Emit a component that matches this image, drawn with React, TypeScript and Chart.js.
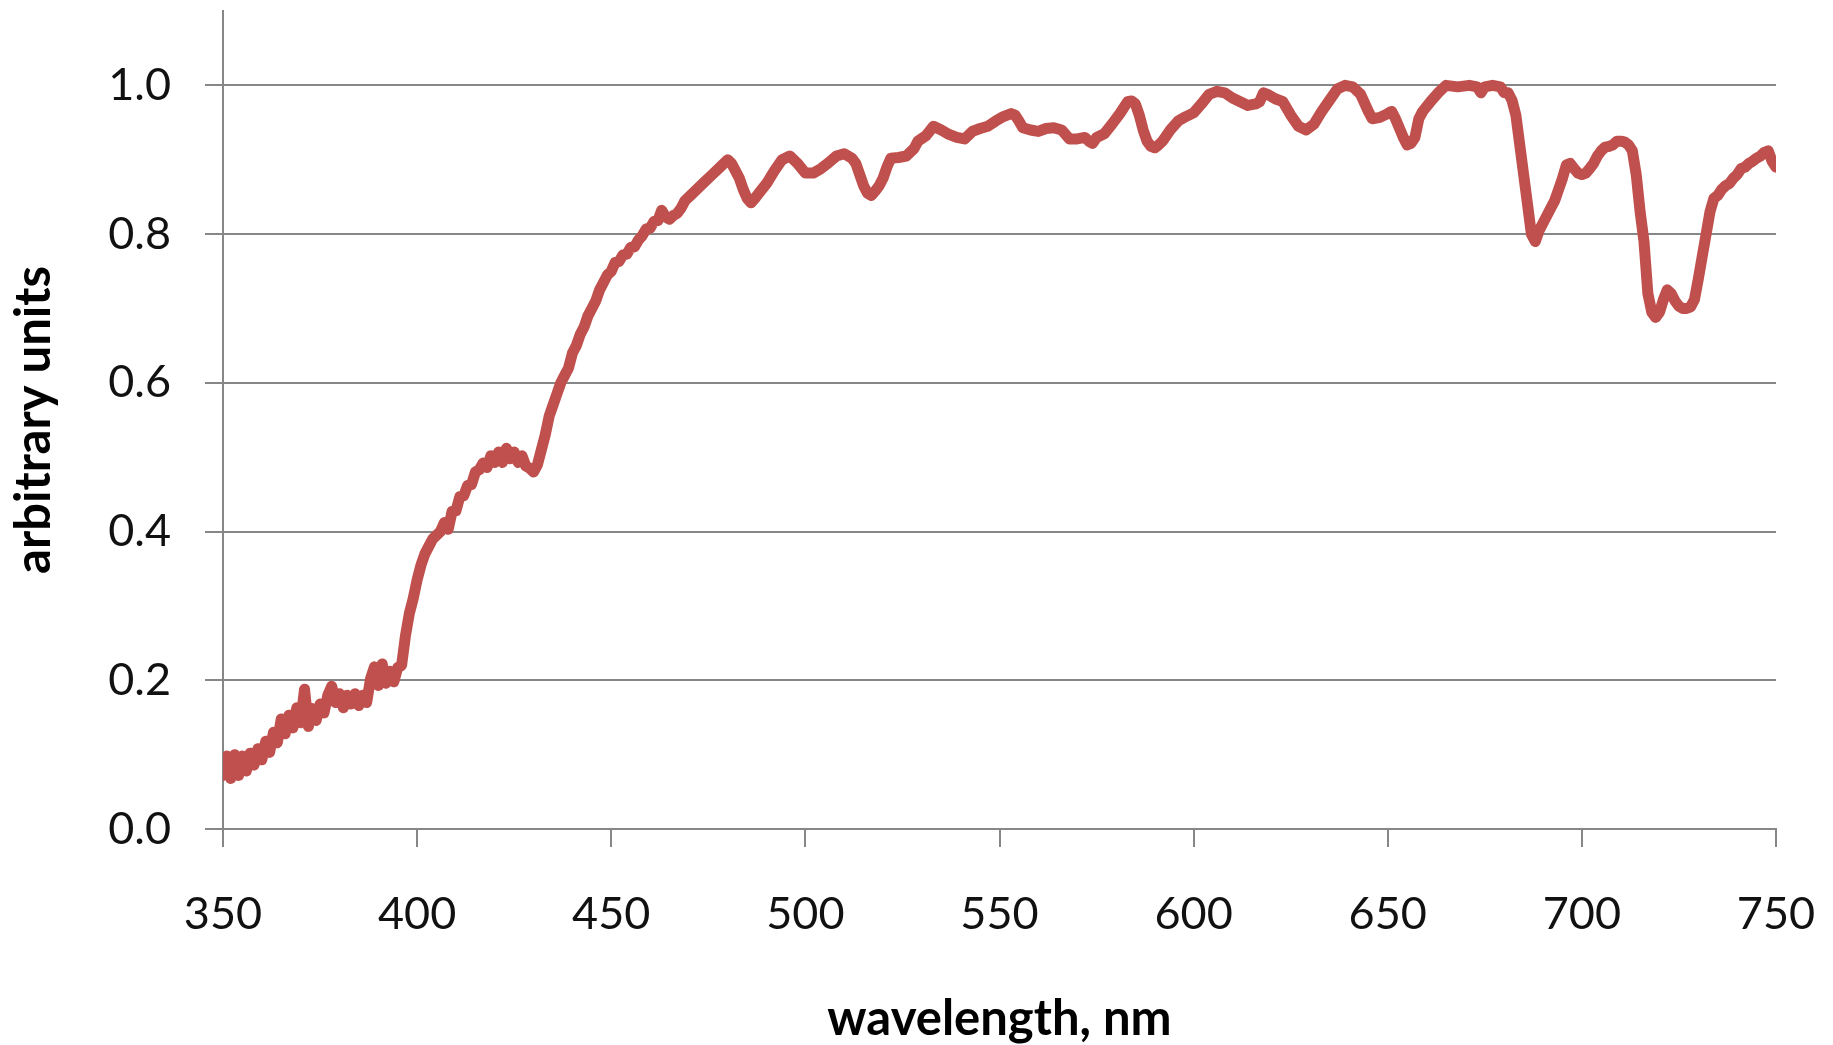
import { useEffect, useRef } from 'react';
import { Chart, registerables } from 'chart.js';

Chart.register(...registerables);

const wavelengths = [
  350, 351, 352, 353, 354, 355, 356, 357, 358, 359, 360, 361, 362, 363, 364, 365, 366, 367, 368, 369,
  370, 371, 372, 373, 374, 375, 376, 377, 378, 379, 380, 381, 382, 383, 384, 385, 386, 387, 388, 389,
  390, 391, 392, 393, 394, 395, 396, 397, 398, 399, 400, 401, 402, 403, 404, 405, 406, 407, 408, 409,
  410, 411, 412, 413, 414, 415, 416, 417, 418, 419, 420, 421, 422, 423, 424, 425, 426, 427, 428, 429,
  430, 431, 432, 433, 434, 435, 436, 437, 438, 439, 440, 441, 442, 443, 444, 445, 446, 447, 448, 449,
  450, 451, 452, 453, 454, 455, 456, 457, 458, 459, 460, 461, 462, 463, 464, 465, 466, 467, 468, 469,
  470, 472, 474, 476, 478, 480, 481, 482, 483, 484, 485, 486, 487, 488, 490, 492, 494, 496, 498, 500,
  502, 504, 506, 508, 510, 512, 513, 514, 515, 516, 517, 518, 519, 520, 521, 522, 524, 526, 528, 529,
  531, 533, 535, 537, 539, 541, 543, 545, 547, 549, 551, 553, 554, 555, 556, 558, 560, 562, 564, 566,
  568, 570, 572, 573, 574, 575, 577, 579, 581, 583, 584, 585, 586, 587, 588, 589, 590, 591, 592, 594,
  596, 598, 600, 602, 604, 606, 608, 610, 612, 614, 616, 617, 618, 619, 621, 623, 625, 627, 629, 631,
  633, 635, 637, 639, 641, 643, 645, 646, 648, 650, 651, 652, 654, 655, 656, 657, 658, 659, 661, 663,
  665, 668, 671, 673, 674, 675, 677, 679, 680, 681, 682, 683, 684, 685, 686, 687, 688, 689, 690, 691,
  692, 693, 694, 695, 696, 697, 698, 699, 700, 701, 702, 703, 704, 705, 706, 707, 708, 709, 710, 711,
  712, 713, 714, 715, 716, 717, 718, 719, 720, 721, 722, 723, 724, 725, 726, 727, 728, 729, 730, 731,
  732, 733, 734, 735, 736, 737, 738, 739, 740, 741, 742, 743, 744, 745, 746, 747, 748, 749, 750,
];

const intensity = [
  0.072, 0.098, 0.068, 0.1, 0.072, 0.098, 0.078, 0.102, 0.086, 0.108, 0.093, 0.118, 0.103, 0.13, 0.116, 0.148, 0.128, 0.153, 0.136, 0.163,
  0.143, 0.188, 0.138, 0.162, 0.146, 0.168, 0.156, 0.18, 0.192, 0.17, 0.182, 0.163, 0.18, 0.168, 0.182, 0.166, 0.18, 0.17, 0.202, 0.218,
  0.193, 0.222, 0.196, 0.212, 0.198, 0.217, 0.22, 0.26, 0.29, 0.31, 0.335, 0.355, 0.37, 0.38, 0.39, 0.395, 0.4, 0.412, 0.403, 0.427,
  0.428, 0.447, 0.448, 0.462, 0.463, 0.48, 0.483, 0.492, 0.486, 0.502, 0.493, 0.507, 0.493, 0.512, 0.498, 0.507, 0.493, 0.502, 0.488, 0.485,
  0.48, 0.49, 0.51, 0.53, 0.555, 0.57, 0.585, 0.6, 0.61, 0.62, 0.64, 0.65, 0.665, 0.675, 0.69, 0.7, 0.71, 0.725, 0.735, 0.745,
  0.75, 0.762, 0.763, 0.772, 0.773, 0.782, 0.783, 0.792, 0.798, 0.807, 0.808, 0.817, 0.818, 0.832, 0.823, 0.82, 0.825, 0.828, 0.835, 0.845,
  0.85, 0.86, 0.87, 0.88, 0.89, 0.9, 0.895, 0.885, 0.875, 0.86, 0.848, 0.842, 0.848, 0.855, 0.868, 0.885, 0.9, 0.905, 0.895, 0.882,
  0.882, 0.888, 0.896, 0.905, 0.908, 0.902, 0.895, 0.88, 0.865, 0.855, 0.852, 0.858, 0.865, 0.875, 0.89, 0.902, 0.903, 0.905, 0.915, 0.925,
  0.932, 0.945, 0.94, 0.934, 0.93, 0.928, 0.938, 0.942, 0.945, 0.952, 0.958, 0.962, 0.96, 0.952, 0.943, 0.94, 0.938, 0.942, 0.943, 0.94,
  0.928, 0.928, 0.93, 0.925, 0.922, 0.93, 0.935, 0.948, 0.962, 0.978, 0.979, 0.975, 0.96, 0.94, 0.925, 0.918, 0.916, 0.92, 0.925, 0.94,
  0.952, 0.958, 0.963, 0.975, 0.988, 0.992, 0.99, 0.983, 0.978, 0.973, 0.975, 0.978, 0.99, 0.988, 0.982, 0.978, 0.96, 0.945, 0.94, 0.948,
  0.965, 0.98, 0.995, 1.0, 0.998, 0.988, 0.965, 0.955, 0.957, 0.962, 0.965, 0.955, 0.93, 0.92, 0.922, 0.93, 0.955, 0.965, 0.978, 0.99,
  1.0, 0.998, 1.0, 0.998, 0.99, 0.998, 1.0, 0.998, 0.99, 0.99, 0.98, 0.96, 0.92, 0.88, 0.84, 0.8, 0.79, 0.805, 0.815, 0.825,
  0.835, 0.845, 0.86, 0.875, 0.893, 0.895, 0.888, 0.882, 0.88, 0.882, 0.888, 0.895, 0.905, 0.912, 0.917, 0.918, 0.92, 0.925, 0.925, 0.924,
  0.92, 0.912, 0.88, 0.83, 0.79, 0.72, 0.695, 0.688, 0.695, 0.712, 0.725, 0.72, 0.71, 0.703, 0.7, 0.7, 0.702, 0.712, 0.74, 0.77,
  0.8, 0.83, 0.848, 0.852, 0.86, 0.865, 0.868, 0.875, 0.88, 0.888, 0.89, 0.895, 0.898, 0.902, 0.905, 0.91, 0.912, 0.898, 0.89,
];

const xTicks = [350, 400, 450, 500, 550, 600, 650, 700, 750];
const yTicks = [0, 0.2, 0.4, 0.6, 0.8, 1.0];

const xTitle = 'wavelength, nm';
const yTitle = 'arbitrary units';

const GRID = '#878787';
const LINE = '#C0504D';

export default function App() {
  const ref = useRef<HTMLCanvasElement | null>(null);

  useEffect(() => {
    document.body.style.margin = '0';
    const canvas = ref.current;
    if (!canvas) return;
    const chart = new Chart(canvas, {
      type: 'line',
      data: {
        datasets: [
          {
            data: wavelengths.map((x, i) => ({ x, y: intensity[i] })),
            borderColor: LINE,
            backgroundColor: LINE,
            borderWidth: 11,
            pointRadius: 0,
            tension: 0,
            fill: false,
            borderJoinStyle: 'round',
            borderCapStyle: 'round',
          },
        ],
      },
      options: {
        responsive: false,
        animation: false,
        events: [],
        layout: { padding: { top: 11, right: 57, left: 0, bottom: 0 } },
        plugins: { legend: { display: false }, tooltip: { enabled: false } },
        scales: {
          x: {
            type: 'linear',
            min: 350,
            max: 750,
            afterBuildTicks: (s: any) => {
              s.ticks = xTicks.map((v) => ({ value: v }));
            },
            afterFit: (s: any) => {
              s.height = 216;
              s.paddingLeft = 0;
              s.paddingRight = 0;
            },
            ticks: {
              font: { family: 'Lato', size: 45 },
              color: '#111',
              padding: 40,
              maxRotation: 0,
              autoSkip: false,
              callback: (v: any) => String(v),
            },
            grid: { drawOnChartArea: false, drawTicks: true, tickLength: 18, color: GRID, lineWidth: 2 },
            border: { display: true, color: GRID, width: 2 },
            title: {
              display: true,
              text: xTitle,
              color: '#000',
              font: { family: 'Lato', size: 49, weight: 'bold', lineHeight: 1 },
              padding: { top: 0, bottom: 1 },
            },
          },
          y: {
            type: 'linear',
            min: 0,
            max: 1.1,
            afterBuildTicks: (s: any) => {
              s.ticks = yTicks.map((v) => ({ value: v }));
            },
            afterFit: (s: any) => {
              s.width = 223;
              s.paddingTop = 0;
              s.paddingBottom = 0;
            },
            ticks: {
              font: { family: 'Lato', size: 45 },
              color: '#111',
              padding: 34,
              autoSkip: false,
              callback: (v: any) => Number(v).toFixed(1),
            },
            grid: { drawOnChartArea: true, drawTicks: true, tickLength: 18, color: GRID, lineWidth: 2 },
            border: { display: true, color: GRID, width: 2 },
            title: {
              display: true,
              text: yTitle,
              color: '#000',
              font: { family: 'Lato', size: 49, weight: 'bold', lineHeight: 1 },
              padding: { top: 10, bottom: 0 },
            },
          },
        },
      },
    } as any);
    return () => chart.destroy();
  }, []);

  return (
    <div style={{ position: 'absolute', left: 0, top: 0, width: 1833, height: 1045, overflow: 'hidden', background: '#fff' }}>
      <canvas ref={ref} width={1833} height={1045} style={{ width: 1833, height: 1045, display: 'block' }} />
    </div>
  );
}
